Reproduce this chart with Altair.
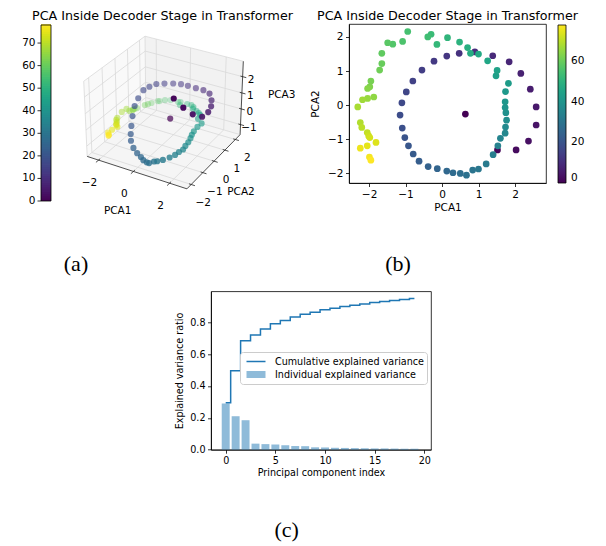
import numpy as np
import pandas as pd
import altair as alt

FONT = "DejaVu Sans"
SERIF = "Liberation Serif"
TITLE = "PCA Inside Decoder Stage in Transformer"

# ---------------- data: token embeddings on the first three principal components
pca1 = [0.64, 1.52, 2.03, 2.37, 2.58, 2.58, 2.42, 2.16, 1.84, 1.39,
        0.90, 0.47, 0.13, -0.22, -0.55, -0.80, -0.98, -1.10, -1.15, -1.09,
        -1.02, -0.92, -0.79, -0.63, -0.38, -0.13, 0.13, 0.30, 0.50, 0.67,
        0.84, 1.00, 1.21, 1.40, 1.53, 1.60, 1.73, 1.74, 1.77, 1.75,
        1.73, 1.73, 1.74, 1.82, 1.48, 1.51, 1.25, 1.00, 0.78, 0.70,
        0.48, 0.15, -0.14, -0.30, -0.39, -0.94, -1.08, -1.35, -1.49, -1.65,
        -1.65, -1.71, -1.95, -1.98, -2.04, -1.87, -2.04, -2.18, -2.31, -2.24,
        -2.20, -2.05, -2.01, -1.98, -1.81, -2.05, -2.24, -1.99, -1.95]
pca2 = [-0.26, -1.31, -1.31, -1.05, -0.58, -0.05, 0.47, 0.93, 1.27, 1.45,
        1.56, 1.52, 1.44, 1.29, 1.03, 0.71, 0.39, 0.07, -0.29, -0.67,
        -0.95, -1.19, -1.43, -1.64, -1.80, -1.86, -1.93, -1.98, -2.00, -2.05,
        -1.90, -1.87, -1.72, -1.45, -1.19, -0.97, -0.82, -0.64, -0.44, -0.22,
        -0.07, 0.10, 0.40, 0.64, 0.86, 1.02, 1.30, 1.50, 1.52, 1.69,
        1.85, 1.98, 1.78, 2.08, 2.00, 2.16, 1.87, 1.79, 1.83, 1.52,
        1.22, 1.03, 0.71, 0.54, 0.49, 0.24, 0.20, 0.16, -0.05, -0.51,
        -0.65, -0.80, -0.90, -0.95, -1.09, -1.19, -1.26, -1.52, -1.61]
pca3 = [0.41, 2.55, 2.18, 1.73, 1.35, 1.29, 1.26, 1.26, 1.36, 1.32,
        1.23, 1.27, 1.32, 1.35, 1.40, 1.49, 1.46, 1.41, 1.12, 0.90,
        0.48, 0.06, -0.24, -0.46, -0.71, -0.91, -1.01, -1.11, -1.16, -1.11,
        -1.06, -1.01, -0.96, -0.93, -0.91, -0.86, -0.76, -0.66, -0.56, -0.46,
        -0.36, -0.26, -0.18, -0.09, -0.06, 0.09, -0.05, -0.13, -0.08, -0.09,
        -0.13, -0.25, -0.28, -0.33, -0.31, -0.45, -0.31, -0.41, -0.48, -0.46,
        -0.34, -0.30, -0.37, -0.33, -0.35, -0.17, -0.26, -0.15, -0.25, -0.31,
        -0.33, -0.31, -0.36, -0.38, -0.35, -0.55, -0.75, -0.62, -0.61]
token = list(range(len(pca1)))  # colour = position of the token (0..78)

# ---------------- data: explained variance (panel c)
pc_index = list(range(20))
individual = [0.290, 0.210, 0.185, 0.038, 0.035, 0.032, 0.028, 0.023, 0.022, 0.015,
              0.014, 0.012, 0.011, 0.010, 0.009, 0.008, 0.008, 0.007, 0.006, 0.006]
cumulative = [0.295, 0.496, 0.683, 0.720, 0.758, 0.790, 0.811, 0.832, 0.850, 0.863,
              0.878, 0.888, 0.898, 0.907, 0.915, 0.924, 0.930, 0.936, 0.942, 0.949]

# ---------------- tick labels
x_ticks3 = [-2, 0, 2]
y_ticks3 = [-2, -1, 0, 1, 2]
z_ticks3 = [-1, 0, 1, 2]
cbar_ticks_a = [0, 10, 20, 30, 40, 50, 60, 70]
cbar_ticks_b = [0, 20, 40, 60]
axis_ticks_b = [-2, -1, 0, 1, 2]
pc_ticks = [0, 5, 10, 15, 20]
ratio_ticks = [0.0, 0.2, 0.4, 0.6, 0.8]
LEG1 = "Cumulative explained variance"
LEG2 = "Individual explained variance"
CMAX = 78

# ---------------- 3-D view of panel (a): matplotlib default camera
XL, YL, ZL = (-2.667, 2.937), (-2.357, 2.467), (-1.65, 2.93)
ELEV, AZIM, DIST = 30.0, -60.0, 10.0
WA, HA = 300, 272
K, CX, CY = 1000.0, 156.0, 100.0

box = np.array([4.0, 4.0, 3.0]) * 1.8294640721620434 / np.sqrt(41.0)
_e, _a = np.deg2rad(ELEV), np.deg2rad(AZIM)
w_ax = np.array([np.cos(_e) * np.cos(_a), np.cos(_e) * np.sin(_a), np.sin(_e)])
u_ax = np.cross([0.0, 0.0, 1.0], w_ax)
u_ax /= np.linalg.norm(u_ax)
v_ax = np.cross(w_ax, u_ax)


def project(x, y, z):
    x = np.asarray(x, float); y = np.asarray(y, float); z = np.asarray(z, float)
    q = np.stack([(x - XL[0]) / (XL[1] - XL[0]) * box[0] - box[0] / 2,
                  (y - YL[0]) / (YL[1] - YL[0]) * box[1] - box[1] / 2,
                  (z - ZL[0]) / (ZL[1] - ZL[0]) * box[2] - box[2] / 2], axis=-1)
    depth = q @ w_ax
    den = DIST - depth
    return CX + K * (q @ u_ax) / den, CY - K * (q @ v_ax) / den, depth


x0, x1 = XL; y0, y1 = YL; z0, z1 = ZL

# points with matplotlib-like depth shading
sx, sy, dep = project(pca1, pca2, pca3)
alpha = 1 - 0.7 * (dep.max() - dep) / (dep.max() - dep.min())
df_a = pd.DataFrame({"sx": sx, "sy": sy, "token": token, "alpha": alpha, "depth": dep})
df_a = df_a.sort_values("depth").reset_index(drop=True)


def pane_rows(corners):
    px, py, _ = project(*np.array(corners, float).T)
    pts = list(zip(px, py))
    n = len(pts)
    rows = []
    for xv in sorted(set(px)):
        ys = []
        for i in range(n):
            (xa, ya), (xb, yb) = pts[i], pts[(i + 1) % n]
            if min(xa, xb) - 1e-9 <= xv <= max(xa, xb) + 1e-9:
                if abs(xb - xa) < 1e-9:
                    ys += [ya, yb]
                else:
                    t = (xv - xa) / (xb - xa)
                    ys.append(ya + t * (yb - ya))
        rows.append({"px": xv, "top": min(ys), "bot": max(ys)})
    return pd.DataFrame(rows)


panes = [
    ([(x0, y0, z0), (x0, y1, z0), (x0, y1, z1), (x0, y0, z1)], "#f9f9f9"),
    ([(x0, y1, z0), (x1, y1, z0), (x1, y1, z1), (x0, y1, z1)], "#f2f2f2"),
    ([(x0, y0, z0), (x1, y0, z0), (x1, y1, z0), (x0, y1, z0)], "#f5f5f5"),
]


def seg_df(segs):
    a = np.array([s[0] for s in segs], float)
    b = np.array([s[1] for s in segs], float)
    ax_, ay_, _ = project(a[:, 0], a[:, 1], a[:, 2])
    bx_, by_, _ = project(b[:, 0], b[:, 1], b[:, 2])
    return pd.DataFrame({"xa": ax_, "ya": ay_, "xb": bx_, "yb": by_})


grid = []
for t in x_ticks3:
    grid += [((t, y0, z0), (t, y1, z0)), ((t, y1, z0), (t, y1, z1))]
for t in y_ticks3:
    grid += [((x0, t, z0), (x1, t, z0)), ((x0, t, z0), (x0, t, z1))]
for t in z_ticks3:
    grid += [((x0, y0, t), (x0, y1, t)), ((x0, y1, t), (x1, y1, t))]
outline = [((x0, y0, z0), (x0, y0, z1)), ((x0, y0, z1), (x0, y1, z1)),
           ((x0, y1, z1), (x1, y1, z1)), ((x0, y1, z0), (x0, y1, z1)),
           ((x0, y1, z0), (x1, y1, z0)), ((x0, y1, z0), (x0, y0, z0))]
axes_lines = [((x0, y0, z0), (x1, y0, z0)), ((x1, y0, z0), (x1, y1, z0)),
              ((x1, y1, z0), (x1, y1, z1))]
ticks = ([((t, y0 + 0.12, z0), (t, y0 - 0.2, z0)) for t in x_ticks3]
         + [((x1 - 0.12, t, z0), (x1 + 0.2, t, z0)) for t in y_ticks3]
         + [((x1 - 0.12, y1, t), (x1 + 0.2, y1, t)) for t in z_ticks3])


def lab_df(pts, vals):
    a = np.array(pts, float)
    px, py, _ = project(a[:, 0], a[:, 1], a[:, 2])
    return pd.DataFrame({"px": px, "py": py,
                         "txt": [f"{v:g}".replace("-", "\u2212") for v in vals]})


lab_x = lab_df([(t, y0, z0) for t in x_ticks3], x_ticks3)
lab_y = lab_df([(x1, t, z0) for t in y_ticks3], y_ticks3)
lab_z = lab_df([(x1, y1, t) for t in z_ticks3], z_ticks3)

# colour bar of panel (a), drawn on the left
CB_X0, CB_X1, CB_TOP, CB_BOT = 32.0, 42.0, 16.0, 192.0


def cb_y(v):
    return CB_BOT - (np.asarray(v, float) / CMAX) * (CB_BOT - CB_TOP)


cb_vals = np.arange(0, CMAX, 1.0)
df_cb = pd.DataFrame({"v": cb_vals + 0.5, "xa": CB_X0, "xb": CB_X1,
                      "ya": cb_y(cb_vals + 1.0) - 0.8, "yb": cb_y(cb_vals)})
df_cb_ticks = pd.DataFrame({"xa": CB_X0 - 3.5, "xb": CB_X0, "ya": cb_y(cbar_ticks_a),
                            "yb": cb_y(cbar_ticks_a), "txt": [str(v) for v in cbar_ticks_a]})
df_cb_frame = pd.DataFrame({"xa": [CB_X0], "xb": [CB_X1], "ya": [CB_TOP], "yb": [CB_BOT]})

SXs = alt.Scale(domain=[0, WA], nice=False, zero=False)
SYs = alt.Scale(domain=[0, HA], nice=False, zero=False, reverse=True)
VIR = alt.Scale(scheme="viridis", domain=[0, CMAX])


def PX(f):
    return alt.X(f, type="quantitative", scale=SXs, axis=None)


def PY(f):
    return alt.Y(f, type="quantitative", scale=SYs, axis=None)


def rules(df, color, width):
    return alt.Chart(df).mark_rule(color=color, strokeWidth=width).encode(
        x=PX("xa"), y=PY("ya"), x2="xb:Q", y2="yb:Q")


def txt(s, x, y, size, font=FONT, angle=0):
    return alt.Chart(pd.DataFrame({"t": [s]})).mark_text(
        font=font, fontSize=size, color="black", baseline="middle", align="center",
        angle=angle).encode(text="t:N", x=alt.value(x), y=alt.value(y))


layers_a = []
for corners, col in panes:
    layers_a.append(alt.Chart(pane_rows(corners)).mark_area(color=col, opacity=1).encode(
        x=PX("px"), y=PY("top"), y2="bot:Q"))
layers_a.append(rules(seg_df(grid + outline), "#d9d9d9", 0.8))
layers_a.append(rules(seg_df(axes_lines), "#222222", 0.8))
layers_a.append(rules(seg_df(ticks), "#222222", 0.8))
layers_a.append(alt.Chart(df_a).mark_point(filled=True, size=38, strokeWidth=0).encode(
    x=PX("sx"), y=PY("sy"),
    color=alt.Color("token:Q", scale=VIR, legend=None),
    opacity=alt.Opacity("alpha:Q", scale=None)))
for df_l, dx, dy in [(lab_x, -9, 23), (lab_y, 12, 19), (lab_z, 8.5, 3)]:
    layers_a.append(alt.Chart(df_l).mark_text(font=FONT, fontSize=10.5, color="black",
                                              baseline="middle", align="center", dx=dx, dy=dy).encode(
        x=PX("px"), y=PY("py"), text="txt:N"))
# colour bar
layers_a.append(alt.Chart(df_cb).mark_rect(strokeWidth=0, opacity=1).encode(
    x=PX("xa"), x2="xb:Q", y=PY("ya"), y2="yb:Q", color=alt.Color("v:Q", scale=VIR, legend=None)))
layers_a.append(alt.Chart(df_cb_frame).mark_rect(fill="transparent", stroke="black", strokeWidth=0.8).encode(
    x=PX("xa"), x2="xb:Q", y=PY("ya"), y2="yb:Q"))
layers_a.append(rules(df_cb_ticks, "black", 0.8))
layers_a.append(alt.Chart(df_cb_ticks).mark_text(font=FONT, fontSize=10.5, color="black",
                                                 baseline="middle", align="right", dx=-2).encode(
    x=PX("xa"), y=PY("ya"), text="txt:N"))
layers_a += [txt("PCA1", 108.7, 202, 10.5), txt("PCA2", 232, 182.7, 10.5),
             txt("PCA3", 272.7, 86.3, 10.5), txt(TITLE, 153.5, 6.5, 12.7),
             txt("(a)", 67, 255, 22, SERIF)]
A = alt.layer(*layers_a).properties(width=WA, height=HA,
                                     view=alt.ViewBackground(fill="white", stroke="transparent"))

# ---------------- panel (b)
df_b = pd.DataFrame({"PCA1": pca1, "PCA2": pca2, "token": token})
b_pts = alt.Chart(df_b).mark_point(filled=True, size=45, opacity=1, strokeWidth=0).encode(
    x=alt.X("PCA1:Q", scale=alt.Scale(domain=[-2.55, 2.85], nice=False, zero=False),
            axis=alt.Axis(values=axis_ticks_b, format="d", title="PCA1", labelFontSize=10.5,
                          titleFontSize=10.5, titlePadding=3)),
    y=alt.Y("PCA2:Q", scale=alt.Scale(domain=[-2.28, 2.38], nice=False, zero=False),
            axis=alt.Axis(values=axis_ticks_b, format="d", title="PCA2", labelFontSize=10.5,
                          titleFontSize=10.5, titlePadding=7)),
    color=alt.Color("token:Q", scale=VIR,
                    legend=alt.Legend(orient="none", legendX=209, legendY=16, direction="vertical",
                                      title=None, gradientLength=158, gradientThickness=8,
                                      values=cbar_ticks_b, labelFont=FONT, labelFontSize=10.5,
                                      labelColor="black", labelOffset=5, labelBaseline="middle",
                                      gradientStrokeColor="black", gradientStrokeWidth=0.8,
                                      padding=0)))
B = alt.layer(b_pts, txt(TITLE, 98.5, -8.5, 12.7), txt("(b)", 49, 240, 22, SERIF)).properties(
    width=197, height=159, view=alt.ViewBackground(stroke="black", strokeWidth=0.8))


def blank(w, h):
    return alt.Chart(pd.DataFrame({"s": [0]})).mark_point(opacity=0, size=1).encode(
        x=alt.value(2), y=alt.value(2)).properties(
        width=w, height=h, view=alt.ViewBackground(fill="white", stroke="transparent"))


Bcol = alt.vconcat(blank(197, 15), B, spacing=0, bounds="flush")

# ---------------- panel (c)
df_c = pd.DataFrame({"pc": pc_index, "individual": individual, "cumulative": cumulative})
df_c["series"] = LEG1
xsc = alt.Scale(domain=[-1.48, 20.67], nice=False, zero=False)
ysc = alt.Scale(domain=[0, 0.994], nice=False, zero=True)
ax_c_x = alt.Axis(values=pc_ticks, format="d", title="Principal component index",
                  labelFontSize=9.6, titleFontSize=9.6, titlePadding=2)
ax_c_y = alt.Axis(values=ratio_ticks, format=".1f", title="Explained variance ratio",
                  labelFontSize=9.6, titleFontSize=9.6, titlePadding=5)
# legend sits in the whole-figure frame (legends are resolved at the top level)
leg_c = alt.Legend(orient="none", legendX=231, legendY=343, title=None, symbolType="stroke",
                   symbolSize=361, clipHeight=13, labelFont=FONT, labelFontSize=9.6,
                   labelColor="black", labelOffset=6, strokeColor="#cccccc", fillColor="white",
                   cornerRadius=3, padding=3, rowPadding=0, labelLimit=0)
bars = alt.Chart(df_c).transform_calculate(lo="datum.pc - 0.4", hi="datum.pc + 0.4").mark_bar(
    color="#1f77b4", opacity=0.5).encode(
    x=alt.X("lo:Q", scale=xsc, axis=ax_c_x), x2="hi:Q",
    y=alt.Y("individual:Q", scale=ysc, axis=ax_c_y), y2=alt.datum(0))
line = alt.Chart(df_c).mark_line(interpolate="step").encode(
    x=alt.X("pc:Q", scale=xsc, axis=ax_c_x),
    y=alt.Y("cumulative:Q", scale=ysc, axis=ax_c_y),
    stroke=alt.Stroke("series:N", scale=alt.Scale(domain=[LEG1, LEG2], range=["#1f77b4", "#8fbbd9"]),
                      legend=leg_c),
    strokeWidth=alt.StrokeWidth("series:N", scale=alt.Scale(type="point", domain=[LEG1, LEG2],
                                                            range=[1.5, 7], padding=0),
                                legend=leg_c))
C = alt.layer(bars, line, txt("(c)", 75.7, 238.7, 22, SERIF)).properties(
    width=220, height=158.4, view=alt.ViewBackground(stroke="black", strokeWidth=0.8))

top = alt.hconcat(A, Bcol, spacing=40, bounds="flush").resolve_scale(
    color="independent").resolve_legend(color="independent")
bottom = alt.hconcat(blank(201.3, 158.4), C, spacing=0, bounds="flush")

chart = alt.vconcat(top, bottom, spacing=8.3).properties(padding=0).configure(
    font=FONT).configure_view(stroke="transparent").configure_axis(
    domainColor="black", domainWidth=0.8, tickColor="black", tickWidth=0.8, tickSize=3.5,
    labelColor="black", titleColor="black", labelFont=FONT, titleFont=FONT,
    titleFontWeight="normal", grid=False, labelPadding=2.5)

chart.save("out.html", embed_options={"renderer": "svg", "actions": False})
